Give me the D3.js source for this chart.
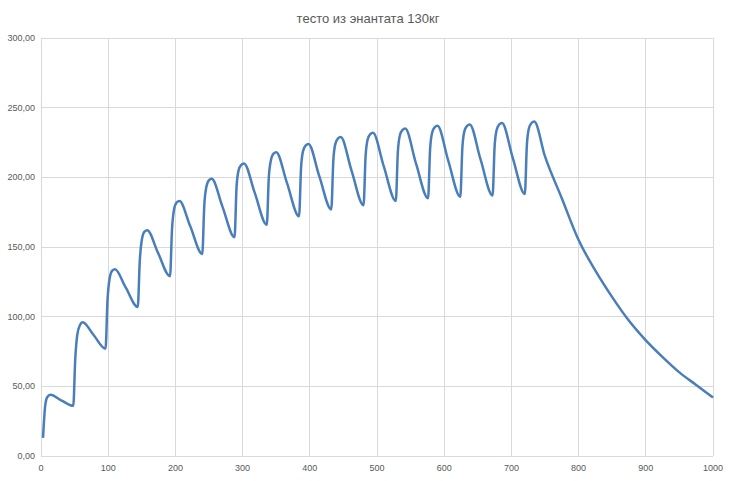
<!DOCTYPE html>
<html><head><meta charset="utf-8">
<script src="https://cdn.jsdelivr.net/npm/d3@7"></script>
<style>body{margin:0;background:#fff}</style>
</head><body>
<svg id="chart" width="736" height="481"></svg>
<script>
var title = "тесто из энантата 130кг"
var xTicks = [0,100,200,300,400,500,600,700,800,900,1000]
var yTicks = [0,50,100,150,200,250,300]
var points = [[3,13],[6,35],[9,42],[14,44],[30,40],[48,36],
[51,70],[54,87],[58,94],[62,96],[78,87],[96,77],
[99,112],[102,127],[106,133],[110,134],[126,121],[144,107],
[147,140],[150,155],[154,161],[158,162],[174,146],[192,129],
[195,163],[198,177],[202,182],[206,183],[222,165],[240,145],
[243,180],[246,193],[250,198],[254,199],[270,179],[288,157],
[291,193],[294,205],[298,209],[302,210],[318,189],[336,166],
[339,200],[342,212],[346,217],[350,218],[366,196],[384,172],
[387,207],[390,219],[394,223],[398,224],[414,201],[432,177],
[435,212],[438,224],[442,228],[446,229],[462,205],[480,180],
[483,215],[486,227],[490,231],[494,232],[510,208],[528,183],
[531,218],[534,230],[538,234],[542,235],[558,210],[576,185],
[579,220],[582,232],[586,236],[590,237],[606,212],[624,186],
[627,221],[630,233],[634,237],[638,238],[654,213],[672,187],
[675,222],[678,234],[682,238],[686,239],[702,214],[720,188],
[723,223],[726,235],[730,239],[734,240],[750,215],[775,185],[800,155],[825,133],
[850,114],[875,97],[900,83],[925,71],[950,60],[975,51],[1000,42]]

var svg = d3.select("#chart")
var x = d3.scaleLinear().domain([0,1000]).range([41,713])
var y = d3.scaleLinear().domain([0,300]).range([456,38])
var fmt = function(v){return d3.format(".2f")(v).replace(".",",")}

svg.selectAll(".vg").data(xTicks).join("line").attr("class","vg")
  .attr("x1",d=>x(d)).attr("x2",d=>x(d)).attr("y1",y(300)).attr("y2",y(0))
  .attr("stroke","#d9d9d9").attr("stroke-width",1).attr("shape-rendering","crispEdges")
svg.selectAll(".hg").data(yTicks).join("line").attr("class","hg")
  .attr("x1",x(0)).attr("x2",x(1000)).attr("y1",d=>y(d)).attr("y2",d=>y(d))
  .attr("stroke","#d9d9d9").attr("stroke-width",1).attr("shape-rendering","crispEdges")

svg.selectAll(".xl").data(xTicks).join("text").attr("class","xl")
  .attr("x",d=>x(d)).attr("y",471).attr("text-anchor","middle")
  .attr("font-family","Liberation Sans, Arial").attr("font-size",9).attr("fill","#595959").text(d=>d)
svg.selectAll(".yl").data(yTicks).join("text").attr("class","yl")
  .attr("x",35).attr("y",d=>y(d)+3).attr("text-anchor","end")
  .attr("font-family","Liberation Sans, Arial").attr("font-size",9).attr("fill","#595959").text(d=>fmt(d))

svg.append("text").attr("x",368).attr("y",23).attr("text-anchor","middle")
  .attr("font-family","Liberation Sans, Arial").attr("font-size",13).attr("fill","#595959").text(title)

var line = d3.line().x(d=>x(d[0])).y(d=>y(d[1])).curve(d3.curveMonotoneX)
svg.append("path").datum(points).attr("d",line).attr("fill","none")
  .attr("stroke","#4a7ebb").attr("stroke-width",2.5).attr("stroke-linejoin","round")
</script>
</body></html>
